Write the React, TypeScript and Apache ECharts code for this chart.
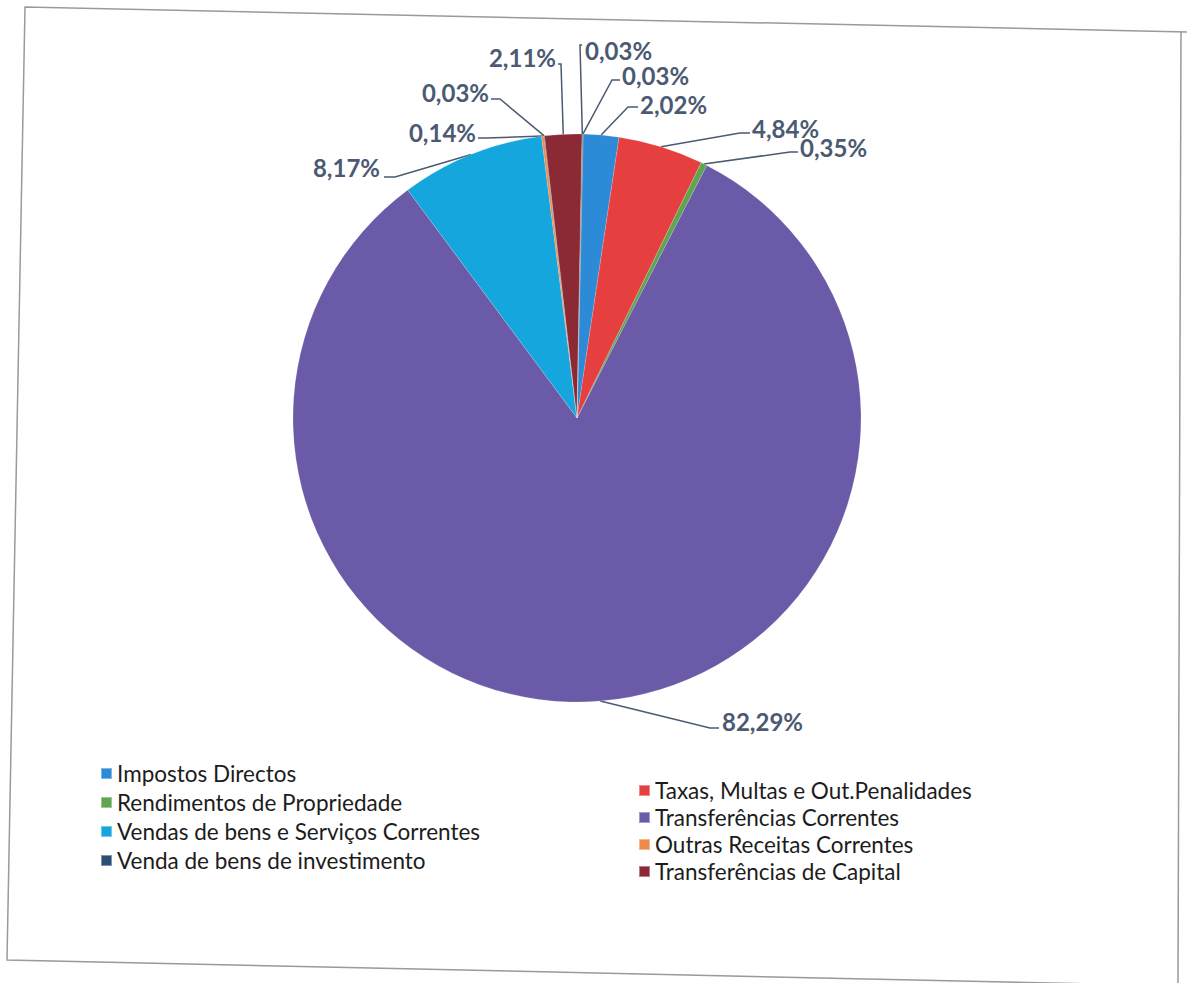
import React, { useEffect, useRef } from "react";
import * as echarts from "echarts";

// ---- data (clockwise from 12 o'clock, as in the workbook order) ----
const categories = [
  "Impostos Directos",
  "Taxas, Multas e Out.Penalidades",
  "Rendimentos de Propriedade",
  "Transferências Correntes",
  "Vendas de bens e Serviços Correntes",
  "Outras Receitas Correntes",
  "Venda de bens de investimento",
  "Transferências de Capital",
  "Outros (9)",
  "Outros (10)",
];
const shares = [2.02, 4.84, 0.35, 82.29, 8.17, 0.14, 0.03, 2.11, 0.03, 0.03];
const sliceColors = [
  "#2d8ad6",
  "#e5403f",
  "#5fa44f",
  "#6a5aa8",
  "#14a6dc",
  "#f08a4b",
  "#2c4d75",
  "#8b2a35",
  "#5f7530",
  "#4d3b62",
];
const legendLeft = categories.slice(0, 8).filter((_, i) => i % 2 === 0);
const legendRight = categories.slice(0, 8).filter((_, i) => i % 2 === 1);

// ---- label layout (text anchor x, y, alignment, elbow of leader line) ----
const labelX = [640, 752, 800, 722, 380, 476, 489, 556, 585, 622];
const labelY = [104, 128, 147, 721, 167, 132, 92, 57, 50, 75];
const labelAlign = ["left", "left", "left", "left", "right", "right", "right", "right", "left", "left"];
const elbowX = [628, 740, 790, 710, 395, 486, 500, 561, 580, 612];
const elbowY = [107, 133, 152, 728, 177, 138, 99, 64, 45, 80];
const endX = [638, 750, 798, 719, 384, 478, 491, 558, 582, 620];

const LABEL_COLOR = "#4b5a72";

export default function App() {
  const ref = useRef<HTMLDivElement>(null);

  useEffect(() => {
    if (!ref.current) return;
    const chart = echarts.init(ref.current, undefined, { renderer: "svg" });
    const data = categories.map((name, i) => ({
      name,
      value: shares[i],
      itemStyle: { color: sliceColors[i] },
    }));
    const legendCommon = {
      orient: "vertical" as const,
      icon: "rect",
      itemWidth: 11,
      itemHeight: 11,
      textStyle: {
        fontFamily: "Lato",
        fontSize: 22.5,
        color: "#1c1c1c",
        lineHeight: 23,
      },
      selectedMode: false,
    };
    chart.setOption({
      animation: false,
      backgroundColor: "#ffffff",
      graphic: [
        {
          type: "polyline",
          shape: { points: [[1187, 32], [25, 7], [7, 960], [1187, 986]] },
          style: { fill: "none", stroke: "#9a9a9a", lineWidth: 1.5 },
          silent: true,
        },
        {
          type: "line",
          shape: { x1: 1181, y1: 32, x2: 1178, y2: 983 },
          style: { stroke: "#9a9a9a", lineWidth: 1.5 },
          silent: true,
        },
      ],
      legend: [
        { ...legendCommon, data: legendLeft, left: 95, top: 757, itemGap: 6 },
        { ...legendCommon, data: legendRight, left: 633, top: 774, itemGap: 4 },
      ],
      series: [
        {
          type: "pie",
          center: [577, 418],
          radius: 284,
          startAngle: 88.76,
          clockwise: true,
          avoidLabelOverlap: false,
          data,
          itemStyle: { borderColor: "rgba(255,255,255,0.4)", borderWidth: 0.4 },
          label: {
            show: true,
            position: "outside",
            fontFamily: "Lato",
            fontWeight: "bold",
            fontSize: 24,
            lineHeight: 24,
            color: LABEL_COLOR,
            formatter: (p: any) => p.value.toFixed(2).replace(".", ",") + "%",
          },
          labelLine: {
            show: true,
            length: 10,
            length2: 10,
            lineStyle: { color: LABEL_COLOR, width: 1.5 },
          },
          labelLayout: (params: any) => {
            const i = params.dataIndex;
            const p0 =
              params.labelLinePoints && params.labelLinePoints[0]
                ? params.labelLinePoints[0]
                : [elbowX[i], elbowY[i]];
            return {
              x: labelX[i],
              y: labelY[i],
              align: labelAlign[i],
              verticalAlign: "middle",
              labelLinePoints: [p0, [elbowX[i], elbowY[i]], [endX[i], elbowY[i]]],
            };
          },
          emphasis: { disabled: true },
        },
      ],
    });
    return () => chart.dispose();
  }, []);

  return (
    <div
      ref={ref}
      style={{ position: "absolute", left: 0, top: 0, width: 1187, height: 983 }}
    />
  );
}
